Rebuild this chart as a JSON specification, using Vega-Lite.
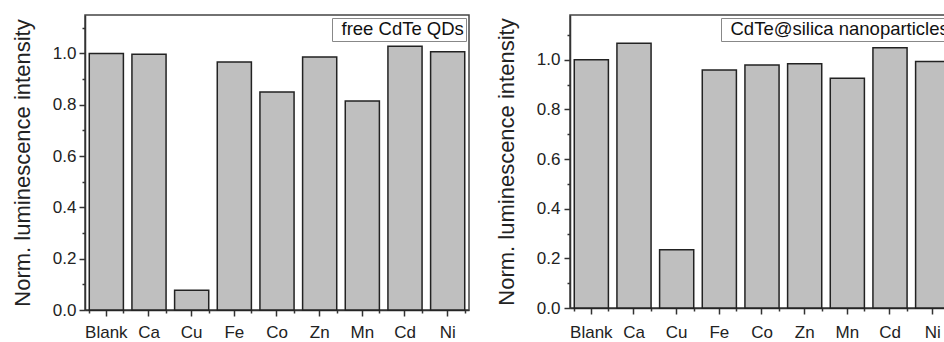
{
  "$schema": "https://vega.github.io/schema/vega-lite/v6.json",
  "padding": {"left": 10, "top": 14, "right": 0, "bottom": 0},
  "spacing": 24,
  "config": {
    "view": {"stroke": "#444", "strokeWidth": 1.5},
    "axis": {
      "domainColor": "#333", "domainWidth": 1.5, "tickColor": "#333", "tickWidth": 1.5,
      "labelFont": "Liberation Sans", "labelFontSize": 17, "labelColor": "#222",
      "titleFont": "Liberation Sans", "titleFontSize": 22, "titleFontWeight": "normal", "titleColor": "#222",
      "grid": false
    },
    "legend": {
      "orient": "top-right", "offset": 3, "strokeColor": "#888", "fillColor": "white", "padding": 2,
      "labelFont": "Liberation Sans", "labelFontSize": 18.5, "labelColor": "#111", "labelLimit": 0,
      "symbolSize": 1, "symbolOpacity": 0, "symbolStrokeWidth": 0, "labelOffset": -11
    }
  },
  "hconcat": [
    {
      "width": 384, "height": 295,
      "data": {"values": [
        {"ion": "Blank", "value": 1.0, "series": "free CdTe QDs"},
        {"ion": "Ca", "value": 0.997, "series": "free CdTe QDs"},
        {"ion": "Cu", "value": 0.077, "series": "free CdTe QDs"},
        {"ion": "Fe", "value": 0.967, "series": "free CdTe QDs"},
        {"ion": "Co", "value": 0.850, "series": "free CdTe QDs"},
        {"ion": "Zn", "value": 0.986, "series": "free CdTe QDs"},
        {"ion": "Mn", "value": 0.815, "series": "free CdTe QDs"},
        {"ion": "Cd", "value": 1.028, "series": "free CdTe QDs"},
        {"ion": "Ni", "value": 1.007, "series": "free CdTe QDs"}
      ]},
      "layer": [
        {
          "mark": {"type": "bar", "stroke": "#222", "strokeWidth": 1.5},
          "encoding": {
            "x": {"field": "ion", "type": "nominal", "sort": null,
              "scale": {"paddingInner": 0.2, "paddingOuter": 0.1},
              "axis": {"title": null, "labelAngle": 0, "tickSize": 6, "labelPadding": 8, "orient": "bottom"}},
            "y": {"field": "value", "type": "quantitative",
              "scale": {"domain": [0, 1.15], "nice": false},
              "axis": {"title": "Norm. luminescence intensity",
                "values": [0, 0.1, 0.2, 0.3, 0.4, 0.5, 0.6, 0.7, 0.8, 0.9, 1.0, 1.1],
                "labelExpr": "round(datum.value*10) % 2 === 0 ? format(datum.value, '.1f') : ''",
                "tickSize": {"condition": {"test": "round(datum.value*10) % 2 === 0", "value": 6}, "value": 3},
                "labelPadding": 3, "titlePadding": 18}},
            "color": {"field": "series", "type": "nominal", "scale": {"range": ["#bfbfbf"]}, "legend": {"title": null}}
          }
        },
        {
          "mark": {"type": "bar", "opacity": 0},
          "encoding": {
            "x": {"field": "ion", "type": "nominal", "sort": null,
              "axis": {"title": null, "labels": false, "domain": false, "tickBand": "extent", "tickSize": 3, "orient": "bottom"}}
          }
        }
      ],
      "resolve": {"axis": {"x": "independent"}}
    },
    {
      "width": 384, "height": 293,
      "data": {"values": [
        {"ion": "Blank", "value": 1.0, "series": "CdTe@silica nanoparticles"},
        {"ion": "Ca", "value": 1.066, "series": "CdTe@silica nanoparticles"},
        {"ion": "Cu", "value": 0.235, "series": "CdTe@silica nanoparticles"},
        {"ion": "Fe", "value": 0.958, "series": "CdTe@silica nanoparticles"},
        {"ion": "Co", "value": 0.979, "series": "CdTe@silica nanoparticles"},
        {"ion": "Zn", "value": 0.984, "series": "CdTe@silica nanoparticles"},
        {"ion": "Mn", "value": 0.925, "series": "CdTe@silica nanoparticles"},
        {"ion": "Cd", "value": 1.048, "series": "CdTe@silica nanoparticles"},
        {"ion": "Ni", "value": 0.993, "series": "CdTe@silica nanoparticles"}
      ]},
      "layer": [
        {
          "mark": {"type": "bar", "stroke": "#222", "strokeWidth": 1.5},
          "encoding": {
            "x": {"field": "ion", "type": "nominal", "sort": null,
              "scale": {"paddingInner": 0.2, "paddingOuter": 0.1},
              "axis": {"title": null, "labelAngle": 0, "tickSize": 6, "labelPadding": 10, "orient": "bottom"}},
            "y": {"field": "value", "type": "quantitative",
              "scale": {"domain": [0, 1.18], "nice": false},
              "axis": {"title": "Norm. luminescence intensity",
                "values": [0, 0.1, 0.2, 0.3, 0.4, 0.5, 0.6, 0.7, 0.8, 0.9, 1.0, 1.1],
                "labelExpr": "round(datum.value*10) % 2 === 0 ? format(datum.value, '.1f') : ''",
                "tickSize": {"condition": {"test": "round(datum.value*10) % 2 === 0", "value": 6}, "value": 3},
                "labelPadding": 4, "titlePadding": 18}},
            "color": {"field": "series", "type": "nominal", "scale": {"range": ["#bfbfbf"]}, "legend": {"title": null}}
          }
        },
        {
          "mark": {"type": "bar", "opacity": 0},
          "encoding": {
            "x": {"field": "ion", "type": "nominal", "sort": null,
              "axis": {"title": null, "labels": false, "domain": false, "tickBand": "extent", "tickSize": 3, "orient": "bottom"}}
          }
        }
      ],
      "resolve": {"axis": {"x": "independent"}}
    }
  ],
  "resolve": {"scale": {"color": "independent"}}
}
